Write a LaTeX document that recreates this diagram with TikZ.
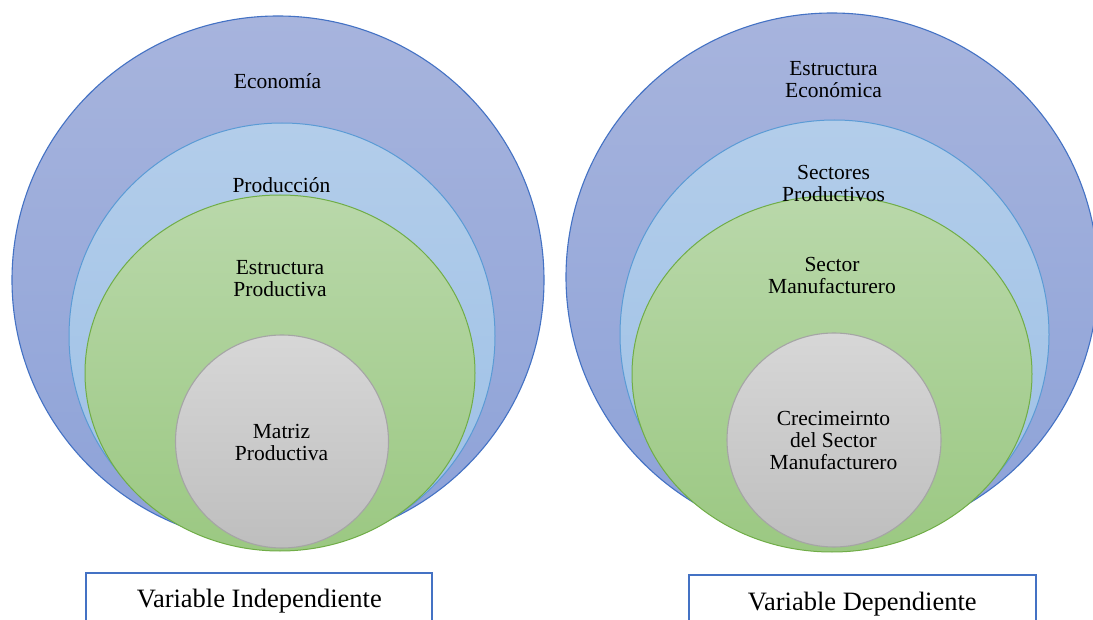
\documentclass[tikz,border=0pt]{standalone}
\usepackage{fontspec}
\setmainfont{Liberation Serif}
\usetikzlibrary{shapes.geometric}
\definecolor{outerline}{RGB}{68,114,196}
\definecolor{outertop}{RGB}{167,180,221}
\definecolor{outerbot}{RGB}{141,162,216}
\definecolor{midline}{RGB}{91,155,213}
\definecolor{midtop}{RGB}{179,205,234}
\definecolor{midbot}{RGB}{156,192,230}
\definecolor{greenline}{RGB}{112,173,71}
\definecolor{greentop}{RGB}{185,216,170}
\definecolor{greenbot}{RGB}{155,200,130}
\definecolor{greyline}{RGB}{165,165,165}
\definecolor{greytop}{RGB}{215,215,215}
\definecolor{greybot}{RGB}{190,190,190}
\definecolor{boxline}{RGB}{68,114,196}
\tikzset{
  ring/.style={ellipse, inner sep=0pt, outer sep=0pt},
  outerring/.style={ring, draw=outerline, line width=1.1pt, top color=outertop, bottom color=outerbot},
  midring/.style={ring, draw=midline, line width=1pt, top color=midtop, bottom color=midbot},
  greenring/.style={ring, draw=greenline, line width=1pt, top color=greentop, bottom color=greenbot},
  greyring/.style={ring, draw=greyline, line width=1.1pt, top color=greytop, bottom color=greybot},
  lbl/.style={inner sep=0pt, align=center, font=\fontsize{21.5}{22}\selectfont},
  boxlbl/.style={inner sep=0pt, anchor=base, font=\fontsize{26.5}{28}\selectfont},
  varbox/.style={draw=boxline, line width=2pt}
}
\begin{document}
\begin{tikzpicture}[x=1pt,y=-1pt]
\useasboundingbox (0,0) rectangle (1093,620);
\clip (0,0) rectangle (1093,620);
\fill[white] (0,0) rectangle (1093,620);

% left diagram
\node[outerring, minimum width=532pt, minimum height=528pt] (LA) at (278,280) {};
\node[midring, minimum width=426pt, minimum height=426pt] (LB) at (282,336) {};
\node[greenring, minimum width=390pt, minimum height=356pt] (LC) at (280,373) {};
\node[greyring, minimum width=213pt, minimum height=213pt] (LD) at (282,441.5) {};
\node[lbl] (la) at (277.5,81.5) {Economía};
\node[lbl] (lb) at (281.5,184.7) {Producción};
\node[lbl] (lc) at (280,278.7) {Estructura\\Productiva};
\node[lbl] (ld) at (281.5,442) {Matriz\\Productiva};

% right diagram
\node[outerring, minimum width=532pt, minimum height=528pt] (RA) at (832,277) {};
\node[midring, minimum width=429pt, minimum height=429pt] (RB) at (834.5,334.5) {};
\node[greenring, minimum width=400pt, minimum height=356pt] (RC) at (832,374) {};
\node[greyring, minimum width=214pt, minimum height=214pt] (RD) at (834,440) {};
\node[lbl] (ra) at (833.5,79.8) {Estructura\\Económica};
\node[lbl] (rb) at (833.5,183) {Sectores\\Productivos};
\node[lbl] (rc) at (832,275) {Sector\\Manufacturero};
\node[lbl] (rd) at (833.5,440.6) {Crecimeirnto\\del Sector\\Manufacturero};

% variable boxes
\draw[varbox] (86,573) rectangle (432,640);
\node[boxlbl] (vi) at (259.3,607) {Variable Independiente};
\draw[varbox] (689,575) rectangle (1035.5,640);
\node[boxlbl] (vd) at (862.3,610) {Variable Dependiente};
\end{tikzpicture}
\end{document}
